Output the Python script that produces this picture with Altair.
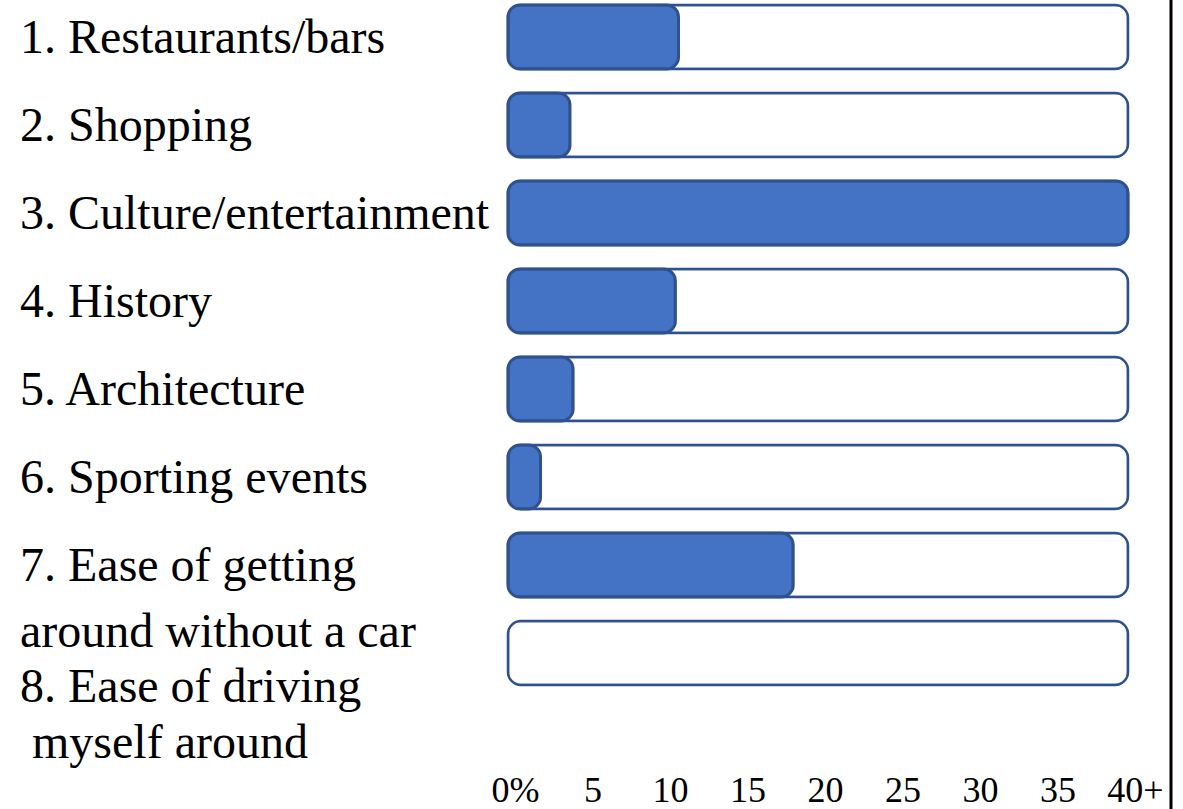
import altair as alt
import pandas as pd

# ---- data ----
labels = [
    "1. Restaurants/bars",
    "2. Shopping",
    "3. Culture/entertainment",
    "4. History",
    "5. Architecture",
    "6. Sporting events",
    "7. Ease of getting\naround without a car",
    "8. Ease of driving\n\u200b\u00a0myself around",
]
shares = [11, 4, 40, 10.8, 4.2, 2.1, 18.4, 0]
scale_max = [40] * len(labels)
tick_values = [0, 5, 10, 15, 20, 25, 30, 35, 40]
tick_labels = ["0%", "5", "10", "15", "20", "25", "30", "35", "40+"]

df = pd.DataFrame({"label": labels, "share": shares, "full": scale_max})

W, H = 620, 690
FONT = "Liberation Serif"
BLUE = "#4472C4"
EDGE = "#2F528F"

label_expr = "".join(
    f"datum.value == {v} ? '{t}' : " for v, t in zip(tick_values, tick_labels)
) + "''"

x_scale = alt.Scale(domain=[0, 40], nice=False, zero=True)
y_scale = alt.Scale(domain=labels, paddingInner=0.2727, paddingOuter=0.0568)

axis = alt.Axis(
    values=tick_values,
    labelExpr=label_expr,
    title=None,
    domain=False,
    ticks=False,
    tickSize=0,
    grid=False,
    labelFont=FONT,
    labelFontSize=36,
    labelColor="black",
    labelBaseline="alphabetic",
    labelPadding=111,
    labelOffset=7,
    labelFlush=False,
    labelOverlap=False,
)

base = alt.Chart(df).encode(
    y=alt.Y("label:N", sort=labels, scale=y_scale, axis=None)
)

bg = base.mark_bar(
    fill="white", stroke=EDGE, strokeWidth=2.5, cornerRadius=13
).encode(x=alt.X("full:Q", scale=x_scale, axis=axis))

fg = base.transform_filter("datum.share > 0").mark_bar(
    fill=BLUE, stroke=EDGE, strokeWidth=3, cornerRadius=12
).encode(x=alt.X("share:Q", scale=x_scale, axis=axis))

text_style = dict(
    align="left",
    baseline="alphabetic",
    font=FONT,
    fontSize=48,
    color="black",
    lineBreak="\n",
)

txt_main = base.transform_filter(
    alt.FieldOneOfPredicate(field="label", oneOf=labels[:-1])
).mark_text(dy=16, lineHeight=66, **text_style).encode(
    x=alt.value(-488), text="label:N"
)

txt_last = base.transform_filter(
    alt.FieldEqualPredicate(field="label", equal=labels[-1])
).mark_text(dy=49, lineHeight=56, **text_style).encode(
    x=alt.value(-488), text="label:N"
)

edge_line = alt.Chart(pd.DataFrame({"k": [0]})).mark_rule(
    color="black", strokeWidth=3
).encode(x=alt.value(W + 43), y=alt.value(-5), y2=alt.value(H + 125))

chart = (
    alt.layer(bg, fg, txt_main, txt_last, edge_line)
    .properties(
        width=W,
        height=H,
        padding={"left": 508, "top": 0, "right": 55, "bottom": 119},
        autosize=alt.AutoSizeParams(type="none"),
        background="white",
    )
    .configure_view(stroke=None)
)

chart.save("out.html", embed_options={"renderer": "svg", "actions": False})
